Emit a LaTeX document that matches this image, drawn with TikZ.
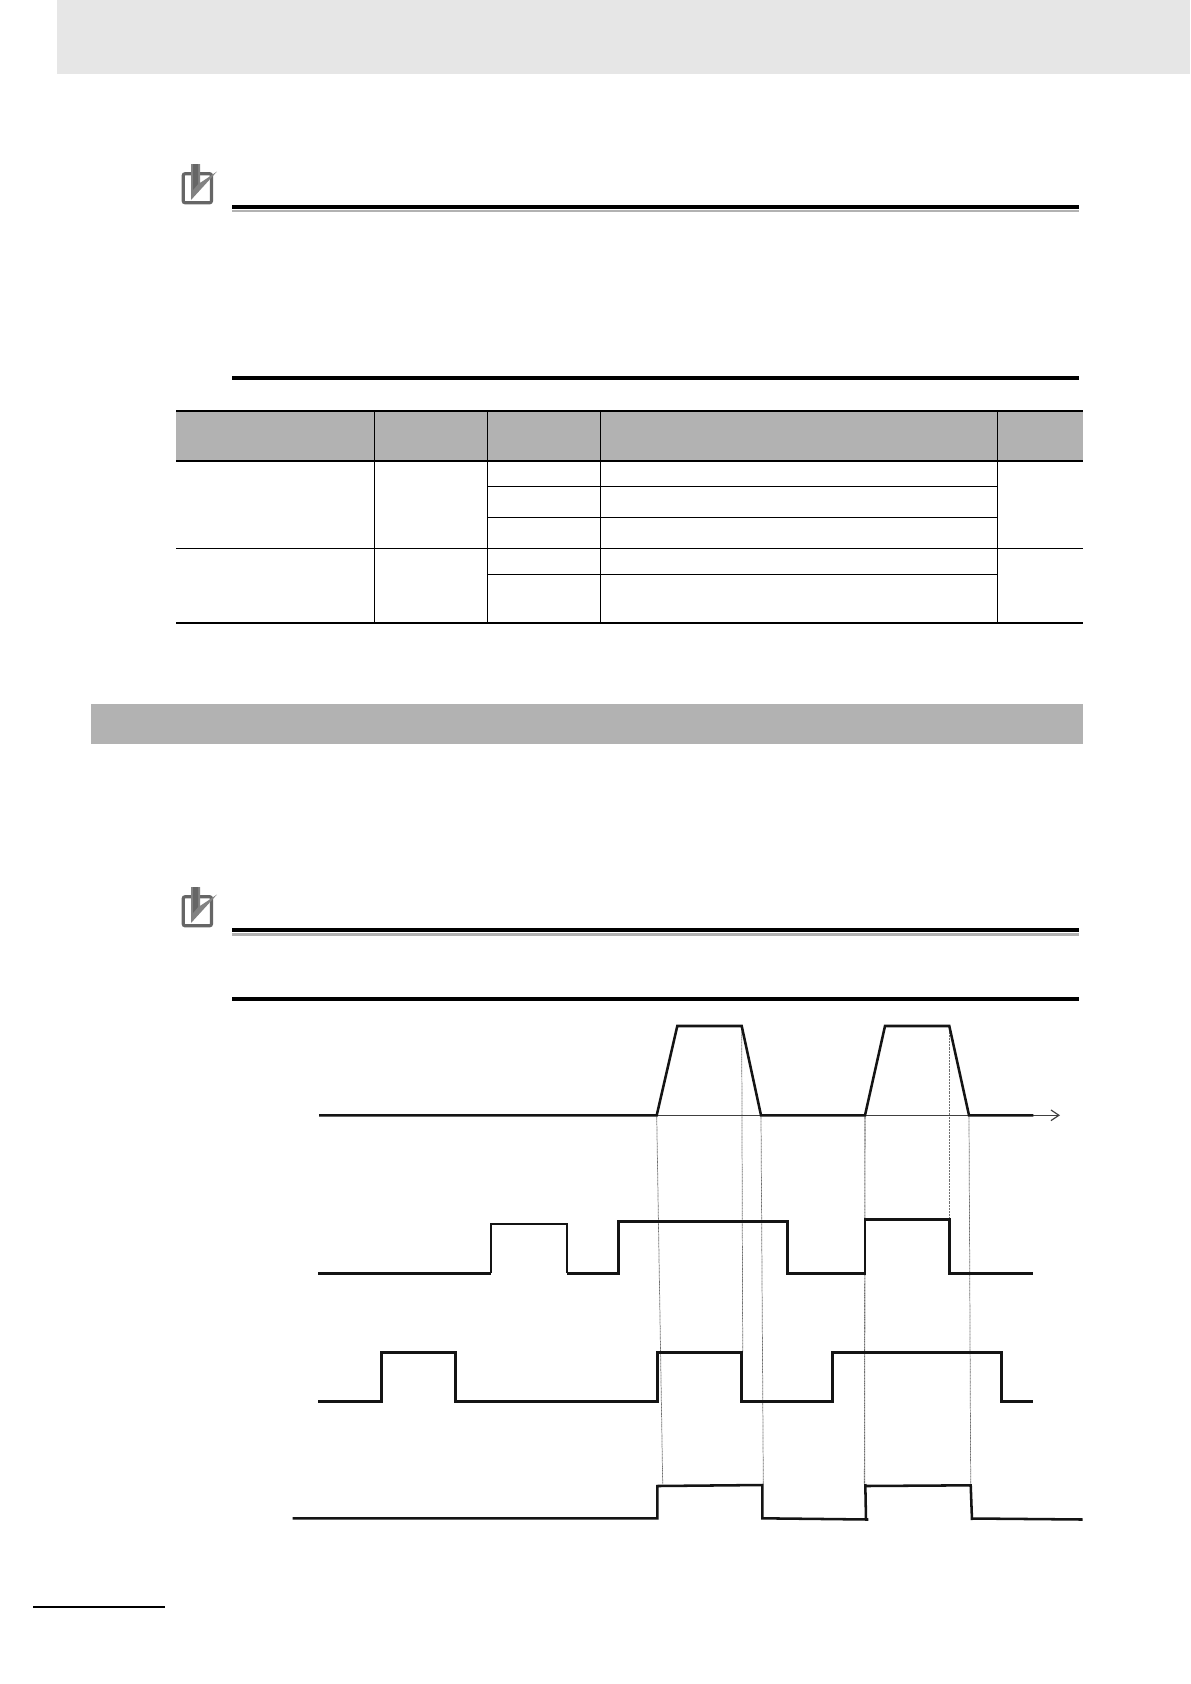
\documentclass[tikz,border=0pt]{standalone}
\usetikzlibrary{arrows.meta}
\definecolor{bandgrey}{HTML}{E6E6E6}
\definecolor{headgrey}{HTML}{B2B2B2}
\definecolor{icondark}{HTML}{666666}
\definecolor{iconmid}{HTML}{828282}
\definecolor{guidegrey}{HTML}{707070}
\tikzset{
  x=0.75pt,y=-0.75pt,
  wave/.style={line width=1.9pt,black!92,line join=miter,line cap=butt},
  thinwave/.style={line width=1.3pt,black!92,line join=miter},
  axisline/.style={line width=0.6pt,black!75},
  guide/.style={line width=0.55pt,guidegrey,dash pattern=on 0.75pt off 0.35pt},
  heavyrule/.style={line width=3pt,black},
  greyrule/.style={line width=2pt,headgrey},
  tablethick/.style={line width=1.6pt,black},
  tablethin/.style={line width=0.9pt,black},
  iconframe/.style={draw=icondark,line width=2.4pt,rounded corners=1.5pt},
  iconcheck/.style={fill=iconmid,draw=none}
}
\newcommand{\noteicon}[1]{%
  \begin{scope}[yshift=#1]
    \draw[iconframe] (183.2,173.7) rectangle (211.5,202.8);
    \fill[iconcheck] (191,164) -- (200,164) -- (200,183) -- (217,171.5) -- (191,200) -- cycle;
    \fill[icondark] (193,164) -- (198,164) -- (198,184) -- (193,190) -- cycle;
  \end{scope}}
\begin{document}
\begin{tikzpicture}
\useasboundingbox (0,0) rectangle (1190,1684);
\fill[white] (0,0) rectangle (1190,1684);
% top band
\fill[bandgrey] (57.3,0) rectangle (1190,74);
% first note
\noteicon{0pt}
\draw[heavyrule] (232,207) -- (1079,207);
\draw[greyrule] (232,211) -- (1079,211);
\draw[heavyrule] (232,378) -- (1079,378);
% table
\fill[headgrey] (176,411) rectangle (1083,461);
\draw[tablethick] (176,411) -- (1083,411);
\draw[tablethick] (176,461) -- (1083,461);
\draw[tablethin] (374.3,411) -- (374.3,622.5);
\draw[tablethin] (487.3,411) -- (487.3,622.5);
\draw[tablethin] (600.3,411) -- (600.3,622.5);
\draw[tablethin] (997.3,411) -- (997.3,622.5);
\draw[tablethin] (487.3,486.3) -- (997.3,486.3);
\draw[tablethin] (487.3,517.3) -- (997.3,517.3);
\draw[tablethin] (176,548.3) -- (1083,548.3);
\draw[tablethin] (487.3,574.3) -- (997.3,574.3);
\draw[tablethick] (176,622.7) -- (1083,622.7);
% section band
\fill[headgrey] (91,704) rectangle (1083,744);
% second note
\noteicon{-542.25pt}
\draw[heavyrule] (232,930) -- (1079,930);
\draw[greyrule] (232,934.5) -- (1079,934.5);
\draw[heavyrule] (232,999) -- (1079,999);
% footer rule
\draw[line width=1.6pt,black] (33,1607) -- (165,1607);
% named timing points
\coordinate (a1) at (656.7,1115.3);
\coordinate (a2) at (677.3,1026);
\coordinate (a3) at (741.7,1026);
\coordinate (a4) at (761,1115.3);
\coordinate (a5) at (865,1115.3);
\coordinate (a6) at (885,1026);
\coordinate (a7) at (949.3,1026);
\coordinate (a8) at (969,1115.3);
\coordinate (b1) at (662.7,1484);
\coordinate (b2) at (742.7,1352);
\coordinate (b3) at (763.3,1484);
\coordinate (b4) at (864.5,1484);
\coordinate (b5) at (949.3,1220);
\coordinate (b6) at (970.7,1484);
% guides
\draw[guide] (a1) -- (b1);
\draw[guide] (a3) -- (b2);
\draw[guide] (a4) -- (b3);
\draw[guide,line width=0.8pt] (a5) -- (b4);
\draw[guide] (a7) -- (b5);
\draw[guide] (a8) -- (b6);
% axis
\draw[axisline,-{Straight Barb[length=6pt,width=8pt,line width=0.9pt]}] (a1) -- (1060,1115.3);
% waveforms
\draw[wave] (319,1115.3) -- (a1) -- (a2) -- (a3) -- (a4) -- (a5) -- (a6) -- (a7) -- (a8) -- (1033.3,1115.3);
\draw[thinwave] (491.3,1273.3) -- (491.3,1224) -- (566.7,1224) -- (566.7,1273.3);
\draw[wave] (318.3,1273.3) -- (491.3,1273.3);
\draw[wave] (566.7,1273.3) -- (618.3,1273.3) -- (618.3,1221.3) -- (787.3,1221.3) -- (787.3,1273.3) -- (865,1273.3) -- (865,1219.7) -- (949.3,1219.7) -- (949.3,1273.3) -- (1033.3,1273.3);
\draw[wave] (318.3,1401.3) -- (381.3,1401.3) -- (381.3,1352.3) -- (455.3,1352.3) -- (455.3,1401.3) -- (657.7,1401.3) -- (657.7,1352.3) -- (741.7,1352.3) -- (741.7,1401.3) -- (832.7,1401.3) -- (832.7,1352.3) -- (1001.3,1352.3) -- (1001.3,1401.3) -- (1033.3,1401.3);
\draw[wave] (292.7,1518.3) -- (657.3,1518.3) -- (657.3,1486) -- (762.3,1485) -- (762.3,1518.3) -- (868.3,1519.5);
\draw[wave] (865.3,1484) -- (866,1519.5);
\draw[wave] (865.3,1486) -- (970.7,1485.3) -- (972,1520);
\draw[wave] (973,1518.5) -- (1082.7,1519.5);
\end{tikzpicture}
\end{document}
